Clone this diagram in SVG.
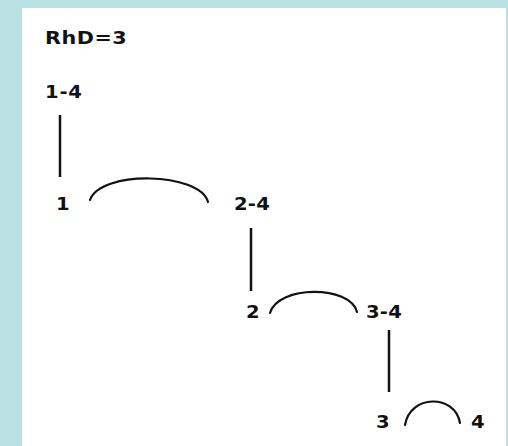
<svg xmlns="http://www.w3.org/2000/svg" width="508" height="446" viewBox="0 0 508 446">
<style>
.t{font-family:"DejaVu Sans","Liberation Sans",sans-serif;font-weight:bold;fill:#111;}
.c{fill:none;stroke:#111;stroke-width:2.2;stroke-linecap:round;}
.v{fill:none;stroke:#111;stroke-width:2.5;}
</style>
<rect x="0" y="0" width="508" height="446" fill="#b9e0e3"/>
<rect x="22" y="8" width="484" height="438" fill="#ffffff"/>
<text class="t" transform="translate(45,44) scale(1.12,1)" font-size="18.5" textLength="73" lengthAdjust="spacing">RhD=3</text>
<g id="n14"><text class="t" transform="translate(45,98) scale(1.12,1)" font-size="17.5" textLength="33" lengthAdjust="spacing">1-4</text></g>
<g id="n1"><text class="t" transform="translate(56,210) scale(1.12,1)" font-size="17.5">1</text></g>
<g id="n24"><text class="t" transform="translate(234,210) scale(1.12,1)" font-size="17.5" textLength="32" lengthAdjust="spacing">2-4</text></g>
<g id="n2"><text class="t" transform="translate(246,318) scale(1.12,1)" font-size="17.5">2</text></g>
<g id="n34"><text class="t" transform="translate(366,318) scale(1.12,1)" font-size="17.5" textLength="32" lengthAdjust="spacing">3-4</text></g>
<g id="n3"><text class="t" transform="translate(376,428) scale(1.12,1)" font-size="17.5">3</text></g>
<g id="n4"><text class="t" transform="translate(471,428) scale(1.12,1)" font-size="17.5">4</text></g>
<g id="connectors">
<line class="v" x1="60" y1="115" x2="60" y2="177"/>
<path class="c" d="M90,200 C100,170 200,172 208,202"/>
<line class="v" x1="251" y1="228" x2="251" y2="291"/>
<path class="c" d="M270,313 C278,285 350,285 357,312"/>
<line class="v" x1="389" y1="330" x2="389" y2="392"/>
<path class="c" d="M405,425 C410,394 455,394 460,423"/>
</g>
</svg>
